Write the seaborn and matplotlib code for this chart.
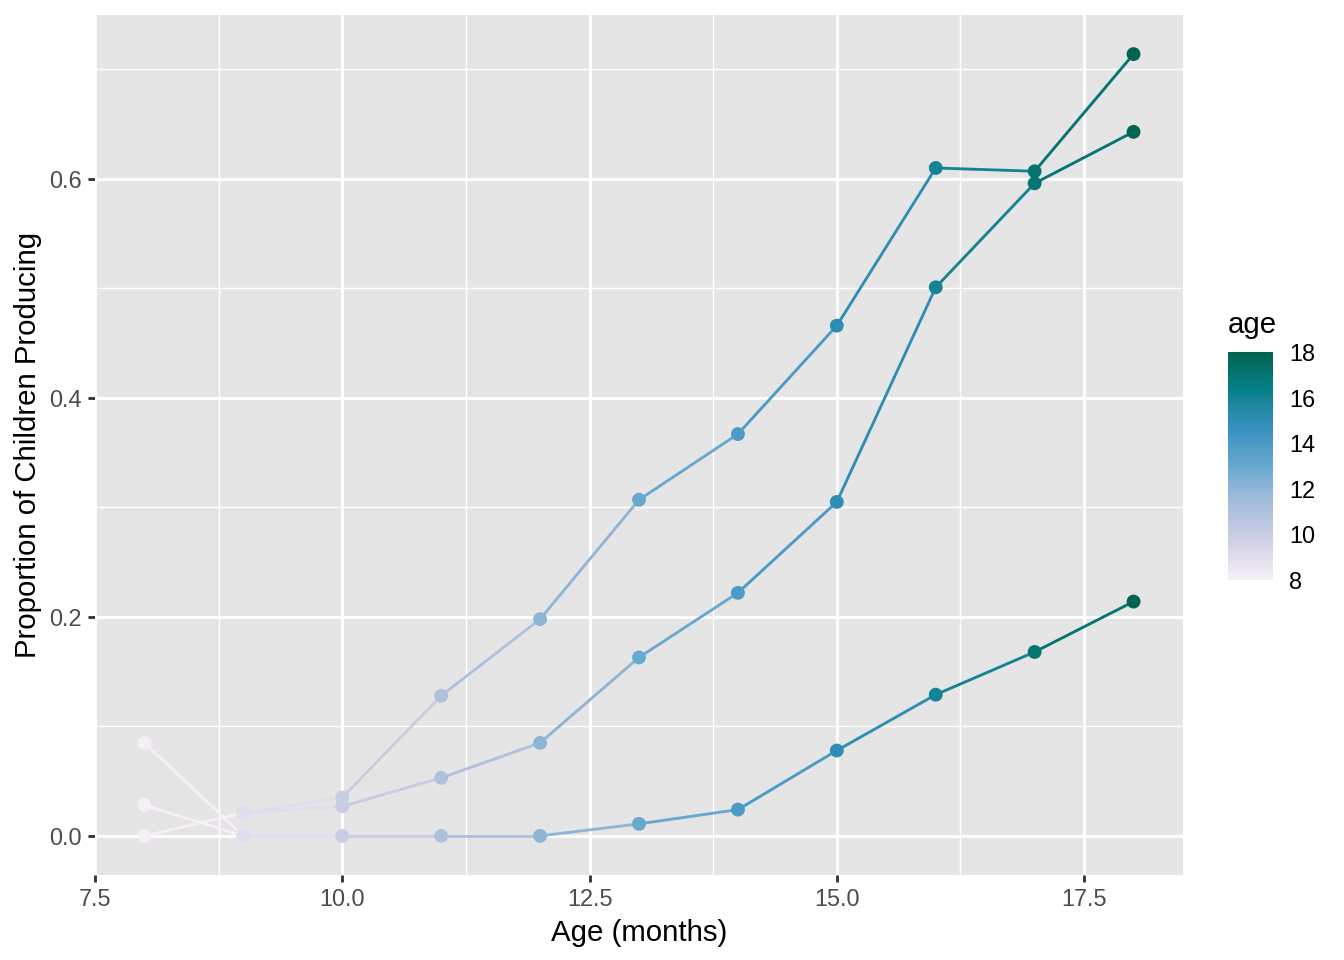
import numpy as np
import pandas as pd
import matplotlib
matplotlib.use("Agg")
import matplotlib.pyplot as plt
import seaborn as sns
from matplotlib.collections import LineCollection
from matplotlib.colors import ListedColormap, Normalize, to_rgb
from matplotlib.cm import ScalarMappable
from matplotlib.ticker import FixedLocator, FormatStrFormatter

# ---- data ----
ages = list(range(8, 19))
prop_a = [0.000, 0.021, 0.035, 0.128, 0.198, 0.307, 0.367, 0.466, 0.610, 0.607, 0.714]
prop_b = [0.028, 0.000, 0.000, 0.000, 0.000, 0.011, 0.024, 0.078, 0.129, 0.168, 0.214]
ages_c = list(range(9, 19))
prop_c = [0.021, 0.027, 0.053, 0.085, 0.163, 0.222, 0.305, 0.501, 0.596, 0.643]
# short piece that crosses the others between 8 and 9 months
ages_d = [8, 9]
prop_d = [0.085, 0.000]

x_ticks = [7.5, 10.0, 12.5, 15.0, 17.5]
y_ticks = [0.0, 0.2, 0.4, 0.6]
cbar_ticks = [8, 10, 12, 14, 16, 18]

# brewer PuBuGn, 7 classes
pubugn = ["#f6eff7", "#d0d1e6", "#a6bddb", "#67a9cf", "#3690c0", "#02818a", "#016450"]

# ---- colour scale interpolated in Lab, like ggplot ----
WHITE = np.array([0.95047, 1.0, 1.08883])
M = np.array([[0.4124, 0.3576, 0.1805],
              [0.2126, 0.7152, 0.0722],
              [0.0193, 0.1192, 0.9505]])

def rgb_to_lab(rgb):
    c = np.asarray(rgb, float)
    lin = np.where(c <= 0.04045, c / 12.92, ((c + 0.055) / 1.055) ** 2.4)
    xyz = lin @ M.T / WHITE
    f = np.where(xyz > 216 / 24389, np.cbrt(xyz), (24389 / 27 * xyz + 16) / 116)
    return np.stack([116 * f[..., 1] - 16, 500 * (f[..., 0] - f[..., 1]),
                     200 * (f[..., 1] - f[..., 2])], axis=-1)

def lab_to_rgb(lab):
    fy = (lab[..., 0] + 16) / 116
    fx = fy + lab[..., 1] / 500
    fz = fy - lab[..., 2] / 200
    f = np.stack([fx, fy, fz], axis=-1)
    xyz = np.where(f ** 3 > 216 / 24389, f ** 3, (116 * f - 16) / (24389 / 27)) * WHITE
    lin = xyz @ np.linalg.inv(M).T
    lin = np.clip(lin, 0, 1)
    c = np.where(lin <= 0.0031308, 12.92 * lin, 1.055 * lin ** (1 / 2.4) - 0.055)
    return np.clip(c, 0, 1)

labs = rgb_to_lab(np.array([to_rgb(c) for c in pubugn]))
pos = np.linspace(0, 1, len(pubugn))
grid = np.linspace(0, 1, 256)
lab_grid = np.stack([np.interp(grid, pos, labs[:, k]) for k in range(3)], axis=-1)
cmap = ListedColormap(lab_to_rgb(lab_grid))
norm = Normalize(vmin=8, vmax=18)

df = pd.concat([
    pd.DataFrame({"group": "a", "age": ages, "prop": prop_a}),
    pd.DataFrame({"group": "b", "age": ages, "prop": prop_b}),
    pd.DataFrame({"group": "c", "age": ages_c, "prop": prop_c}),
    pd.DataFrame({"group": "d", "age": ages_d, "prop": prop_d}),
], ignore_index=True)

# ---- style ----
sns.set_theme(style="white")
plt.rcParams["font.family"] = ["Liberation Sans", "DejaVu Sans"]

fig = plt.figure(figsize=(7, 5), dpi=192)
ax = fig.add_axes([95 / 1344, 1 - 875 / 960, (1183 - 95) / 1344, (875 - 15) / 960])
ax.set_facecolor("#E5E5E5")
for s in ax.spines.values():
    s.set_visible(False)

# grid (major + minor), ggplot grey theme
for v in x_ticks:
    ax.axvline(v, color="white", lw=1.07, zorder=1)
for v in [8.75, 11.25, 13.75, 16.25]:
    ax.axvline(v, color="white", lw=0.53, zorder=1)
for v in y_ticks:
    ax.axhline(v, color="white", lw=1.07, zorder=1)
for v in [0.1, 0.3, 0.5, 0.7]:
    ax.axhline(v, color="white", lw=0.53, zorder=1)

# lines: each segment coloured by the age of its first point
segs, cols = [], []
for g, d in df.groupby("group"):
    d = d.sort_values("age")
    xs, ys = d["age"].to_numpy(), d["prop"].to_numpy()
    for i in range(len(xs) - 1):
        segs.append([(xs[i], ys[i]), (xs[i + 1], ys[i + 1])])
        cols.append(cmap(norm(xs[i])))
ax.add_collection(LineCollection(segs, colors=cols, linewidths=1.07, zorder=2))

sns.scatterplot(data=df, x="age", y="prop", hue="age", palette=cmap, hue_norm=(8, 18),
                s=27, linewidth=0, legend=False, ax=ax, zorder=3)

ax.set_xlim(7.5, 18.5)
ax.set_ylim(-0.0357, 0.7497)
ax.xaxis.set_major_locator(FixedLocator(x_ticks))
ax.yaxis.set_major_locator(FixedLocator(y_ticks))
ax.xaxis.set_major_formatter(FormatStrFormatter("%.1f"))
ax.yaxis.set_major_formatter(FormatStrFormatter("%.1f"))
ax.tick_params(axis="both", which="major", length=2.75, width=1.07, color="#333333",
               labelsize=8.8, labelcolor="#4D4D4D", pad=2.2, bottom=True, left=True)
ax.set_xlabel("Age (months)", fontsize=11, color="black", labelpad=2.75)
ax.set_ylabel("Proportion of Children Producing", fontsize=11, color="black", labelpad=2.75)

# colour bar legend
cax = fig.add_axes([1228 / 1344, 1 - 580 / 960, 45 / 1344, 228 / 960])
cb = fig.colorbar(ScalarMappable(norm=norm, cmap=cmap), cax=cax)
cb.outline.set_visible(False)
cb.set_ticks(cbar_ticks)
cb.set_ticklabels([str(t) for t in cbar_ticks])
cax.tick_params(axis="y", direction="in", length=3.4, width=0.6, color="white",
                left=True, right=True, labelsize=8.8, labelcolor="black", pad=6)
ticks = cax.yaxis.get_major_ticks()
for t in (ticks[0], ticks[-1]):
    t.tick1line.set_visible(False)
    t.tick2line.set_visible(False)
fig.text(1228 / 1344, 1 - 325 / 960, "age", fontsize=11, color="black", va="center", ha="left")

fig.savefig("out.png", dpi=192)
